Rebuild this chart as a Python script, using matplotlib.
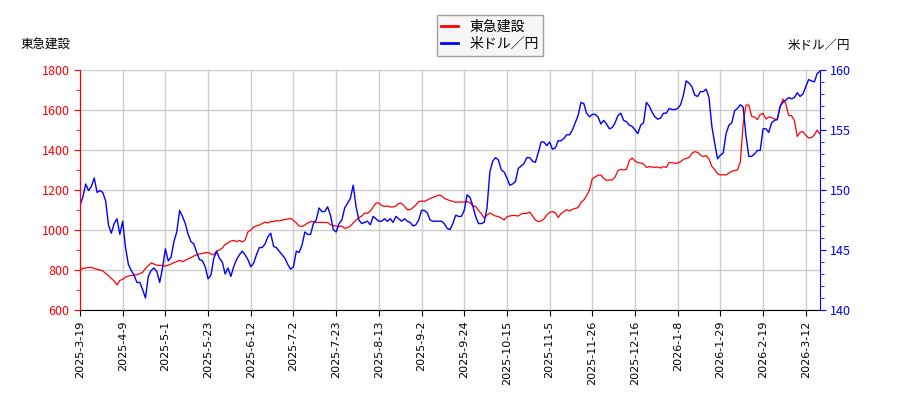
import numpy as np
import matplotlib
matplotlib.use("Agg")
import matplotlib.pyplot as plt
from matplotlib.ticker import MultipleLocator

plt.rcParams['font.family'] = ['Noto Sans CJK JP', 'DejaVu Sans']

## series, one value per trading day
stock = [
    800, 808, 810, 812, 813, 808, 803, 800, 796, 783,
    772, 758, 745, 725, 748, 753, 765, 770, 772, 775,
    777, 782, 788, 808, 822, 835, 830, 824, 823, 822,
    820, 824, 830, 837, 842, 848, 842, 848, 856, 862,
    870, 876, 880, 883, 886, 888, 880, 876, 895, 900,
    910, 928, 935, 945, 948, 942, 948, 940, 950, 990,
    1000, 1015, 1020, 1025, 1032, 1040, 1035, 1042, 1042, 1047,
    1045, 1050, 1052, 1055, 1058, 1048, 1035, 1020, 1018, 1025,
    1035, 1042, 1042, 1038, 1038, 1038, 1038, 1037, 1027, 1022,
    1020, 1017, 1020, 1008, 1012, 1020, 1035, 1050, 1062, 1070,
    1085, 1083, 1095, 1115, 1135, 1135, 1122, 1118, 1120, 1115,
    1115, 1120, 1133, 1133, 1118, 1102, 1102, 1112, 1125, 1142,
    1145, 1143, 1150, 1158, 1163, 1168, 1175, 1172, 1158, 1152,
    1147, 1143, 1138, 1140, 1140, 1140, 1142, 1137, 1120, 1118,
    1098, 1082, 1060, 1075, 1085, 1077, 1070, 1067, 1060, 1050,
    1067, 1070, 1073, 1072, 1070, 1080, 1083, 1083, 1090, 1070,
    1050, 1042, 1045, 1055, 1075, 1088, 1092, 1087, 1063, 1082,
    1092, 1102, 1095, 1103, 1108, 1112, 1137, 1150, 1172, 1200,
    1257, 1265, 1274, 1275, 1258, 1248, 1250, 1250, 1265, 1297,
    1303, 1300, 1303, 1347, 1360, 1345, 1337, 1335, 1330, 1313,
    1317, 1315, 1313, 1315, 1310, 1317, 1313, 1337, 1337, 1333,
    1335, 1342, 1353, 1358, 1363, 1383, 1392, 1388, 1375, 1367,
    1372, 1355, 1318, 1302, 1282, 1275, 1277, 1275, 1285, 1293,
    1298, 1300, 1340, 1530, 1625, 1625, 1568, 1565, 1552, 1578,
    1583, 1555, 1565, 1562, 1555, 1550, 1617, 1655, 1630, 1572,
    1572, 1547, 1468, 1488, 1492, 1474, 1460, 1462, 1475, 1500,
    1480,
]

usdjpy = [
    148.75, 149.4, 150.5, 149.95, 150.3, 151.0, 149.8, 149.95, 149.8, 149.1,
    147.1, 146.4, 147.2, 147.6, 146.3, 147.4, 145.2, 143.8, 143.3, 142.9,
    142.3, 142.3, 141.7, 141.0, 142.8, 143.3, 143.5, 143.2, 142.3, 143.5,
    145.1, 144.1, 144.4, 145.7, 146.5, 148.3, 147.8, 147.2, 146.3, 145.7,
    145.5, 144.8, 144.2, 144.1, 143.6, 142.6, 142.9, 144.3, 144.9, 144.3,
    144.0, 143.0, 143.5, 142.8, 143.6, 144.2, 144.6, 144.9, 144.6, 144.2,
    143.6, 143.9, 144.6, 145.2, 145.2, 145.5, 146.1, 146.4, 145.3, 145.2,
    144.9, 144.6, 144.3, 143.8, 143.4, 143.6, 144.9, 144.8, 145.4, 146.5,
    146.3, 146.3, 147.2, 147.5, 148.5, 148.2, 148.2, 148.6, 147.9, 146.7,
    146.5, 147.2, 147.5, 148.5, 148.9, 149.3, 150.4, 148.6, 147.5, 147.2,
    147.3, 147.4, 147.1, 147.8, 147.6, 147.4, 147.4, 147.6, 147.4, 147.6,
    147.3, 147.8, 147.6, 147.4, 147.6, 147.4, 147.3, 147.0, 147.1, 147.5,
    148.3, 148.3, 148.1, 147.5, 147.4, 147.4, 147.4, 147.4, 147.2, 146.8,
    146.7, 147.2, 147.9, 147.8, 147.8, 148.3, 149.6, 149.4, 148.7, 147.8,
    147.2, 147.2, 147.3, 148.5, 151.5, 152.4, 152.7, 152.5, 151.7, 151.5,
    151.0, 150.4, 150.5, 150.7, 151.8, 152.0, 152.2, 152.7, 152.7, 152.4,
    152.3, 153.1, 154.0, 154.0, 153.7, 154.0, 153.4, 153.5, 154.1, 154.1,
    154.3, 154.6, 154.6, 155.0, 155.6, 156.2, 157.3, 157.2, 156.4, 156.1,
    156.3, 156.3, 156.1, 155.5, 155.8, 155.5, 155.1, 155.2, 155.6, 156.2,
    156.4, 155.8, 155.7, 155.4, 155.3, 155.0, 154.7, 155.4, 155.6, 157.3,
    157.0, 156.5, 156.1, 155.9, 156.0, 156.4, 156.4, 156.8, 156.7, 156.7,
    156.8, 157.1, 157.9, 159.1, 158.9, 158.6, 157.9, 157.8, 158.2, 158.2,
    158.4, 157.7, 155.3, 153.9, 152.6, 152.9, 153.1, 154.7, 155.4, 155.6,
    156.6, 156.8, 157.1, 156.9, 154.5, 152.8, 152.8, 153.0, 153.3, 153.3,
    155.1, 155.1, 154.8, 155.6, 155.8, 155.9, 157.0, 157.3, 157.5, 157.7,
    157.6, 157.7, 158.1, 157.8, 158.0, 158.6, 159.2, 159.1, 159.0, 159.7,
    159.9,
]

tick_labels = [
    '2025-3-19', '2025-4-9', '2025-5-1', '2025-5-23', '2025-6-12', '2025-7-2',
    '2025-7-23', '2025-8-13', '2025-9-2', '2025-9-24', '2025-10-15', '2025-11-5',
    '2025-11-26', '2025-12-16', '2026-1-8', '2026-1-29', '2026-2-19', '2026-3-12',
]
tick_step = 15  # trading days between labels

name_stock = '東急建設'
name_fx = '米ドル／円'

x = np.arange(len(stock))

fig = plt.figure(figsize=(9, 4), dpi=100)
ax = fig.add_axes([80/900, 90/400, 740/900, 240/400])
ax2 = ax.twinx()

l1, = ax.plot(x, stock, color='#ff0000', lw=0.9, label=name_stock)
l2, = ax2.plot(x, usdjpy, color='#0000ff', lw=1.0, label=name_fx)

ax.set_xlim(0, len(stock) - 1)
ax.set_ylim(600, 1800)
ax2.set_ylim(140, 160)

ax.set_xticks(x[::tick_step][:len(tick_labels)])
ax.set_xticklabels(tick_labels, rotation=90, fontsize=8, family='DejaVu Sans')

ax.yaxis.set_major_locator(MultipleLocator(200))
ax.yaxis.set_minor_locator(MultipleLocator(100))
ax2.yaxis.set_major_locator(MultipleLocator(5))
ax2.yaxis.set_minor_locator(MultipleLocator(1))

ax.grid(True, color='#cccccc', lw=1)
ax.set_axisbelow(True)

ax.tick_params(axis='y', colors='#ff0000', labelsize=9, length=4)
ax.tick_params(axis='y', which='minor', colors='#ff0000', length=3)
ax2.tick_params(axis='y', colors='#0000ff', labelsize=9, length=4)
ax2.tick_params(axis='y', which='minor', colors='#0000ff', length=3)
ax.tick_params(axis='x', length=4, colors='black')

for a in (ax, ax2):
    a.spines['top'].set_visible(False)
ax2.spines['left'].set_color('#ff0000')
ax2.spines['right'].set_color('#0000ff')
ax.spines['left'].set_color('#ff0000')
ax.spines['right'].set_visible(False)
ax2.spines['bottom'].set_visible(False)

fig.text(20/900, 1 - 45/400, name_stock, fontsize=9, va='center', ha='left')
fig.text(850/900, 1 - 45/400, name_fx, fontsize=9, va='center', ha='right')

leg = fig.legend([l1, l2], [name_stock, name_fx], loc='upper center',
                 bbox_to_anchor=(490/900, 1 - 8/400), fontsize=10,
                 frameon=True, fancybox=False, handlelength=1.2,
                 borderpad=0.35, labelspacing=0.25)
leg.get_frame().set_facecolor('#f4f4f4')
leg.get_frame().set_edgecolor('#888888')
for h in leg.get_lines():
    h.set_linewidth(2)

fig.savefig('out.png', dpi=100)
